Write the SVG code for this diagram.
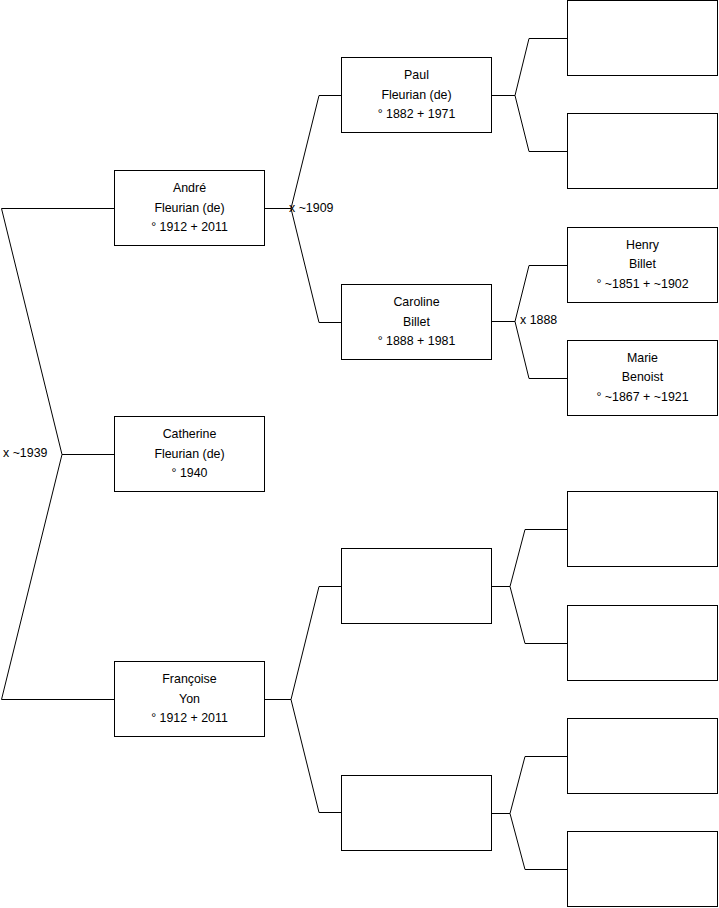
<svg xmlns="http://www.w3.org/2000/svg" width="719" height="908" viewBox="0 0 719 908">
<style>
.box{fill:#fff;stroke:#000;stroke-width:1}
.c{fill:none;stroke:#000;stroke-width:1}
text{font-family:"Liberation Sans",Arial,sans-serif;font-size:12.4px;fill:#000}
.n text{text-anchor:middle}
</style>
<rect width="719" height="908" fill="#fff"/>
<g id="connectors">
<polyline class="c" points="114,208.5 1.5,208.5 62,454.5 1.5,699.5 114,699.5"/>
<line class="c" x1="62" y1="454.5" x2="114" y2="454.5"/>
<polyline class="c" points="265,208.5 291,208.5"/>
<polyline class="c" points="341,95.5 319,95.5 291,208.5 319,322.5 341,322.5"/>
<polyline class="c" points="492,95.5 515,95.5"/>
<polyline class="c" points="567,38.5 529,38.5 515,95.5 529,151.5 567,151.5"/>
<polyline class="c" points="492,321.5 515,321.5"/>
<polyline class="c" points="567,265.5 529,265.5 515,321.5 529,378.5 567,378.5"/>
<polyline class="c" points="265,699.5 291,699.5"/>
<polyline class="c" points="341,586.5 319,586.5 291,699.5 319,812.5 341,812.5"/>
<polyline class="c" points="492,586.5 510,586.5"/>
<polyline class="c" points="567,529.5 525,529.5 510,586.5 525,643.5 567,643.5"/>
<polyline class="c" points="492,813.5 510,813.5"/>
<polyline class="c" points="567,756.5 525,756.5 510,813.5 525,869.5 567,869.5"/>
<text x="3" y="457">x ~1939</text>
<text x="289" y="212">x ~1909</text>
<text x="520" y="324">x 1888</text>
</g>
<g id="andre" class="n"><rect class="box" x="114.5" y="170.5" width="150" height="75"/><text x="189.5" y="192">André</text><text x="189.5" y="211.5">Fleurian (de)</text><text x="189.5" y="231">° 1912 + 2011</text></g>
<g id="catherine" class="n"><rect class="box" x="114.5" y="416.5" width="150" height="75"/><text x="189.5" y="438">Catherine</text><text x="189.5" y="457.5">Fleurian (de)</text><text x="189.5" y="477">° 1940</text></g>
<g id="francoise" class="n"><rect class="box" x="114.5" y="661.5" width="150" height="75"/><text x="189.5" y="683">Françoise</text><text x="189.5" y="702.5">Yon</text><text x="189.5" y="722">° 1912 + 2011</text></g>
<g id="paul" class="n"><rect class="box" x="341.5" y="57.5" width="150" height="75"/><text x="416.5" y="79">Paul</text><text x="416.5" y="98.5">Fleurian (de)</text><text x="416.5" y="118">° 1882 + 1971</text></g>
<g id="caroline" class="n"><rect class="box" x="341.5" y="284.5" width="150" height="75"/><text x="416.5" y="306">Caroline</text><text x="416.5" y="325.5">Billet</text><text x="416.5" y="345">° 1888 + 1981</text></g>
<g id="empty-f1" class="n"><rect class="box" x="341.5" y="548.5" width="150" height="75"/></g>
<g id="empty-f2" class="n"><rect class="box" x="341.5" y="775.5" width="150" height="75"/></g>
<g id="empty-p1" class="n"><rect class="box" x="567.5" y="0.5" width="150" height="75"/></g>
<g id="empty-p2" class="n"><rect class="box" x="567.5" y="113.5" width="150" height="75"/></g>
<g id="henry" class="n"><rect class="box" x="567.5" y="227.5" width="150" height="75"/><text x="642.5" y="248.5">Henry</text><text x="642.5" y="268">Billet</text><text x="642.5" y="287.5">° ~1851 + ~1902</text></g>
<g id="marie" class="n"><rect class="box" x="567.5" y="340.5" width="150" height="75"/><text x="642.5" y="361.5">Marie</text><text x="642.5" y="381">Benoist</text><text x="642.5" y="400.5">° ~1867 + ~1921</text></g>
<g id="empty-a1" class="n"><rect class="box" x="567.5" y="491.5" width="150" height="75"/></g>
<g id="empty-a2" class="n"><rect class="box" x="567.5" y="605.5" width="150" height="75"/></g>
<g id="empty-b1" class="n"><rect class="box" x="567.5" y="718.5" width="150" height="75"/></g>
<g id="empty-b2" class="n"><rect class="box" x="567.5" y="831.5" width="150" height="75"/></g>
</svg>
